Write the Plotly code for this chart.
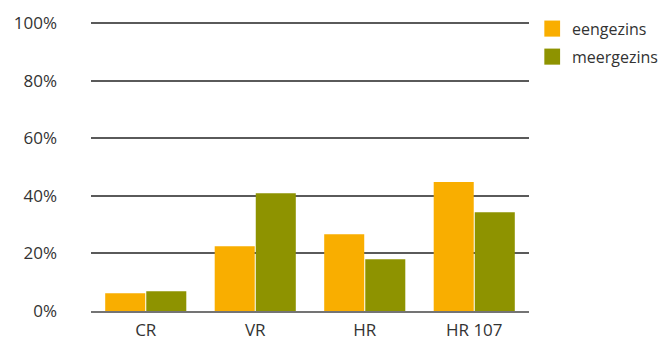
import plotly.graph_objects as go

categories = ["CR", "VR", "HR", "HR 107"]
series_names = ["eengezins", "meergezins"]
eengezins = [6.2, 22.5, 26.7, 44.8]
meergezins = [6.9, 40.9, 18.0, 34.3]
tick_vals = [0, 20, 40, 60, 80, 100]
tick_text = ["0%", "20%", "40%", "60%", "80%", "100%"]

colors = ["#F9AE00", "#8E9300"]
font_family = "Open Sans, Noto Sans, sans-serif"
text_color = "#333333"

fig = go.Figure()
for name, vals, col in zip(series_names, [eengezins, meergezins], colors):
    fig.add_trace(go.Bar(x=categories, y=vals, name=name, marker_color=col,
                         marker_line_width=0, showlegend=False))

# legend drawn as swatches + labels to the right of the plot
for i, (name, col) in enumerate(zip(series_names, colors)):
    y0 = 1.0 - i * 0.097
    fig.add_shape(type="rect", xref="paper", yref="paper",
                  x0=1.035, x1=1.071, y0=y0 - 0.0556 + 0.005, y1=y0 + 0.005,
                  fillcolor=col, line_width=0)
    fig.add_annotation(xref="paper", yref="paper", x=1.093, y=y0 + 0.005 - 0.028,
                       text=name, showarrow=False, xanchor="left", yanchor="middle",
                       font=dict(family=font_family, size=16, color=text_color))

fig.update_layout(
    width=667, height=342,
    margin=dict(l=91, r=138, t=22, b=31),
    paper_bgcolor="white", plot_bgcolor="white",
    barmode="group", bargap=0.25, bargroupgap=0.025,
    font=dict(family=font_family, size=17, color=text_color),
)
fig.update_yaxes(range=[0, 100.4], tickvals=tick_vals, ticktext=tick_text,
                 showgrid=True, gridcolor="#5a5a5a", gridwidth=1.5,
                 zeroline=False, showline=False, ticks="", automargin=False,
                 ticklabelstandoff=33,
                 tickfont=dict(family=font_family, size=17, color=text_color))
fig.update_xaxes(showline=True, linecolor="rgba(70,70,70,0.75)", linewidth=2,
                 layer="above traces", ticks="", ticklabelstandoff=3,
                 automargin=False,
                 tickfont=dict(family=font_family, size=17, color=text_color))

fig.write_html("out.html")
